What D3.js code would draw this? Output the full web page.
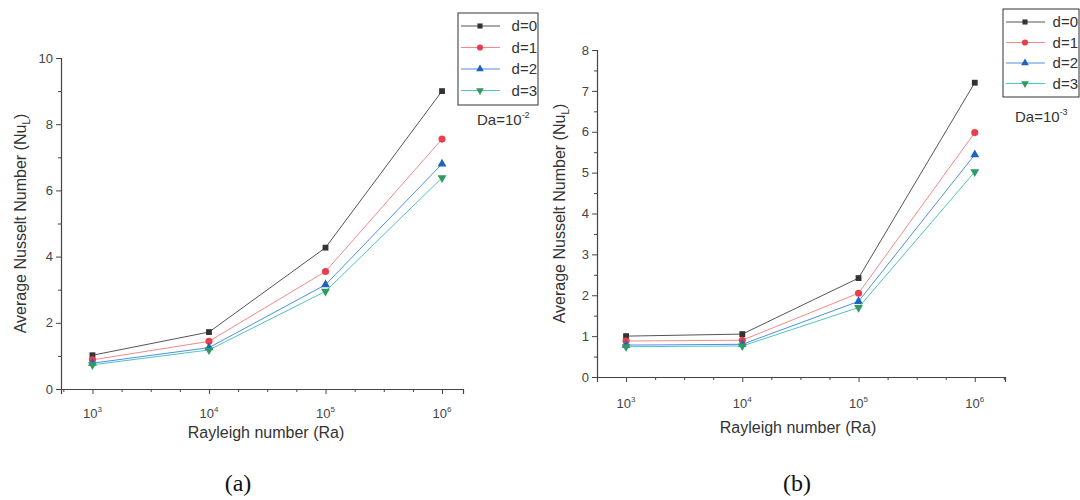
<!DOCTYPE html>
<html><head><meta charset="utf-8">
<script src="https://cdn.jsdelivr.net/npm/d3@7"></script>
<style>
body{margin:0;background:#fff;}
svg{font-family:"Liberation Sans",Arial,sans-serif;}
</style></head>
<body><svg id="c" width="1080" height="500"></svg>
<script>
// ---- data ----
const raExponents = [3, 4, 5, 6];
const seriesNames = ["d=0", "d=1", "d=2", "d=3"];
const nuA_d0 = [1.02, 1.72, 4.27, 9.0];
const nuA_d1 = [0.88, 1.44, 3.55, 7.55];
const nuA_d2 = [0.78, 1.25, 3.15, 6.8];
const nuA_d3 = [0.73, 1.18, 2.95, 6.38];
const nuB_d0 = [1.0, 1.05, 2.42, 7.2];
const nuB_d1 = [0.88, 0.9, 2.05, 5.98];
const nuB_d2 = [0.78, 0.8, 1.85, 5.44];
const nuB_d3 = [0.74, 0.76, 1.7, 5.02];
const yTicksA = [0, 2, 4, 6, 8, 10];
const yTicksB = [0, 1, 2, 3, 4, 5, 6, 7, 8];
const daExpA = "-2", daExpB = "-3";
const captions = ["(a)", "(b)"];
const xTitle = "Rayleigh number (Ra)";
const yTitle = "Average Nusselt Number (Nu";

// ---- styles ----
const lineCol = ["#555", "#f28a8a", "#4f8fe0", "#4cc6c0"];
const markCol = ["#333", "#e8404a", "#1f62c0", "#2f9a62"];
const symbols = [d3.symbolSquare, d3.symbolCircle, d3.symbolTriangle, "tri-down"];
const axisCol = "#444";

const svg = d3.select("#c");

const panels = [
  {series:[nuA_d0,nuA_d1,nuA_d2,nuA_d3], yMax:10, yTicks:yTicksA, yMinor:1,
   x0:61, x1:463, xDom:[2.73, 6.18], yTop:58, yBot:389, da:daExpA, cap:captions[0],
   legX:458, legY:13, legW:80, legRow:21.5, capX:238, yTitleX:26, daX:477, daY:125,
   tickLabY:418, titleY:438, titleX:266},
  {series:[nuB_d0,nuB_d1,nuB_d2,nuB_d3], yMax:8, yTicks:yTicksB, yMinor:0.5,
   x0:597, x1:1005, xDom:[2.75, 6.26], yTop:50, yBot:377, da:daExpB, cap:captions[1],
   legX:1003, legY:9, legW:76, legRow:20.5, capX:797, yTitleX:565, daX:1015, daY:122,
   tickLabY:408, titleY:433, titleX:798}
];

function symPath(s, size){
  if (s === "tri-down") return d3.symbol(d3.symbolTriangle, size)();
  return d3.symbol(s, size)();
}

panels.forEach(P => {
  const g = svg.append("g");
  const x = d3.scaleLinear().domain(P.xDom).range([P.x0, P.x1]);
  const y = d3.scaleLinear().domain([0, P.yMax]).range([P.yBot, P.yTop]);

  // y axis
  const yAx = d3.axisLeft(y).tickValues(P.yTicks).tickSize(5).tickPadding(3).tickFormat(d3.format("d"));
  const ya = g.append("g").attr("transform", `translate(${P.x0},0)`).call(yAx);
  const yMinorVals = d3.range(0, P.yMax + 1e-9, P.yMinor).filter(v => !P.yTicks.includes(v));
  g.append("g").attr("transform", `translate(${P.x0},0)`)
    .call(d3.axisLeft(y).tickValues(yMinorVals).tickSize(3).tickFormat(""))
    .call(s => s.select(".domain").remove());
  // x axis
  g.append("g").attr("transform", `translate(0,${P.yBot})`)
    .call(d3.axisBottom(x).tickValues(raExponents).tickSize(5).tickFormat(""));
  const halfVals = d3.range(2.75, P.xDom[1], 0.25).filter(v => !raExponents.includes(v));
  g.append("g").attr("transform", `translate(0,${P.yBot})`)
    .call(d3.axisBottom(x).tickValues(halfVals).tickSize(3).tickFormat(""))
    .call(s => s.select(".domain").remove());
  g.selectAll(".domain").attr("stroke", axisCol).attr("stroke-width", 1.2);
  g.selectAll(".tick line").attr("stroke", axisCol);
  ya.selectAll(".tick text").attr("fill", "#444").style("font-size", "13px").style("font-family", "Liberation Sans, Arial");

  // x tick labels with superscripts
  const xl = g.append("g");
  raExponents.forEach(e => {
    const t = xl.append("text").attr("x", x(e)).attr("y", P.tickLabY).attr("text-anchor", "middle")
      .attr("fill", "#444").style("font-size", "13px");
    t.append("tspan").text("10");
    t.append("tspan").attr("dy", -6).style("font-size", "8px").text(e);
  });

  // titles
  g.append("text").attr("x", P.titleX).attr("y", P.titleY).attr("text-anchor", "middle")
    .attr("fill", "#333").style("font-size", "16px").text(xTitle);
  const yt = g.append("text").attr("transform", `translate(${P.yTitleX},${(P.yTop + P.yBot) / 2}) rotate(-90)`)
    .attr("text-anchor", "middle").attr("fill", "#333").style("font-size", "16px");
  yt.append("tspan").text(yTitle);
  yt.append("tspan").attr("dy", 4).style("font-size", "10px").text("L");
  yt.append("tspan").attr("dy", -4).text(")");

  // series
  P.series.forEach((vals, i) => {
    const pts = raExponents.map((e, k) => [e, vals[k]]);
    g.append("path").datum(pts).attr("fill", "none").attr("stroke", lineCol[i]).attr("stroke-width", 1)
      .attr("d", d3.line().x(d => x(d[0])).y(d => y(d[1])));
    g.selectAll(null).data(pts).enter().append("path")
      .attr("d", symPath(symbols[i], i === 1 ? 40 : 34))
      .attr("transform", d => `translate(${x(d[0])},${y(d[1])})` + (symbols[i] === "tri-down" ? " rotate(180)" : ""))
      .attr("fill", markCol[i]);
  });

  // legend
  const lg = g.append("g");
  lg.append("rect").attr("x", P.legX).attr("y", P.legY).attr("width", P.legW).attr("height", P.legRow * 4 + 6)
    .attr("fill", "#fff").attr("stroke", "#333").attr("stroke-width", 1);
  seriesNames.forEach((n, i) => {
    const cy = P.legY + 13 + i * P.legRow;
    lg.append("line").attr("x1", P.legX + 3).attr("x2", P.legX + 42).attr("y1", cy).attr("y2", cy)
      .attr("stroke", lineCol[i]).attr("stroke-width", 1);
    lg.append("path").attr("d", symPath(symbols[i], i === 1 ? 30 : 26))
      .attr("transform", `translate(${P.legX + 22},${cy})` + (symbols[i] === "tri-down" ? " rotate(180)" : ""))
      .attr("fill", markCol[i]);
    lg.append("text").attr("x", P.legX + P.legW - 1).attr("y", cy + 5).attr("text-anchor", "end")
      .attr("fill", "#333").style("font-size", "15px").text(n);
  });
  const dt = lg.append("text").attr("x", P.daX).attr("y", P.daY).attr("fill", "#333").style("font-size", "15px");
  dt.append("tspan").text("Da=10");
  dt.append("tspan").attr("dy", -7).style("font-size", "9px").text(P.da);

  // caption
  svg.append("text").attr("x", P.capX).attr("y", 491).attr("text-anchor", "middle")
    .style("font-family", "Liberation Serif, Times New Roman, serif").style("font-size", "24px")
    .attr("fill", "#111").text(P.cap);
});
</script></body></html>
